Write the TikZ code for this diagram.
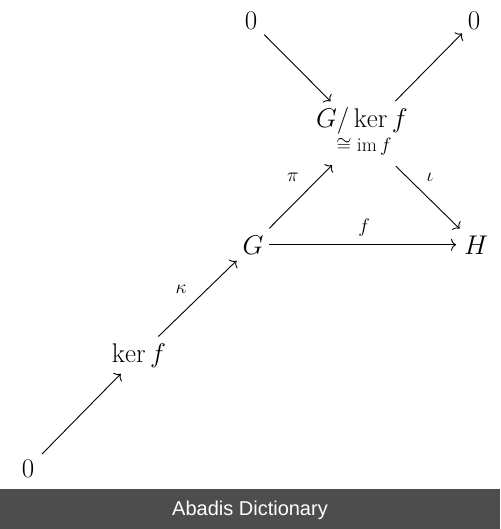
\RequirePackage{fix-cm}
\documentclass[tikz,border=0pt]{standalone}
\usepackage{fontspec}
\newfontfamily\bannerfont{Liberation Sans}
\usetikzlibrary{arrows.meta,calc}
\definecolor{bannergray}{RGB}{77,77,77}
\tikzset{
  obj/.style={inner sep=0pt, anchor=base, font=\fontsize{27}{32}\selectfont},
  lbl/.style={inner sep=0pt, font=\fontsize{19.5}{23}\selectfont},
  arr/.style={line width=0.9pt, -{To[length=5pt,width=12pt]}},
  banner/.style={inner sep=0pt, anchor=base, text=white, font=\bannerfont\fontsize{20}{24}\selectfont},
}
\begin{document}
\begin{tikzpicture}[x=1pt,y=-1pt]
\useasboundingbox (0,0) rectangle (500,529);
% objects
\node[obj] (z1) at (251,30) {$0$};
\node[obj] (z2) at (474,30) {$0$};
\node[obj] (gq) at (362,128) {$G/\ker f$};
\node[lbl, anchor=base] (gi) at (364,151.5) {$\cong \mathop{\mathrm{im}} f$};
\coordinate (gc) at ($(gq.center)!0.5!(gi.center)$);
\node[obj] (g) at (253,254) {$G$};
\node[obj] (h) at (476,254) {$H$};
\node[obj] (k) at (139,362) {$\ker f$};
\node[obj] (z3) at (28,477) {$0$};
% arrows
\draw[arr, shorten <=19pt, shorten >=46pt] (z1.center) -- (gc);
\draw[arr, shorten <=46pt, shorten >=17pt] (gc) -- (z2.center);
\draw[arr, shorten <=23pt, shorten >=44pt] (g.center) -- (gc);
\draw[arr, shorten <=46pt, shorten >=23pt] (gc) -- (h.center);
\draw[arr, shorten <=16pt, shorten >=20pt] (g.center) -- (h.center);
\draw[arr, shorten <=27pt, shorten >=23pt] (k.center) -- (g.center);
\draw[arr, shorten <=20pt, shorten >=26pt] (z3.center) -- (k.center);
% labels
\node[lbl] (lpi) at (293,177) {$\pi$};
\node[lbl] (liota) at (430,177) {$\iota$};
\node[lbl] (lf) at (364,228) {$f$};
\node[lbl] (lkappa) at (181,289) {$\kappa$};
% banner
\fill[bannergray] (0,489) rectangle (500,529);
\node[banner] (ban) at (250,515) {Abadis Dictionary};
\end{tikzpicture}
\end{document}
